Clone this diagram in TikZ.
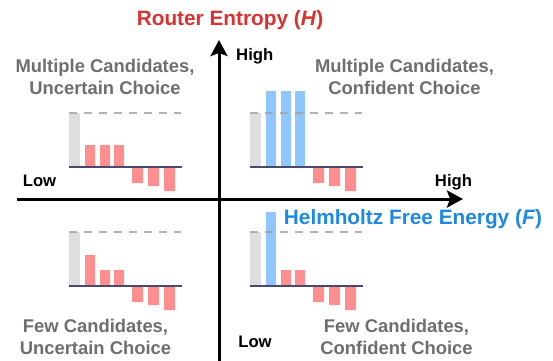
\documentclass[tikz,border=0pt]{standalone}
\usepackage{fontspec}
\setmainfont{Liberation Sans}
\usetikzlibrary{arrows.meta}
\definecolor{titlered}{RGB}{218,50,48}
\definecolor{titleblue}{RGB}{30,136,229}
\definecolor{quadgray}{RGB}{110,110,110}
\definecolor{bargray}{RGB}{222,222,222}
\definecolor{barred}{RGB}{255,143,143}
\definecolor{barblue}{RGB}{144,198,255}
\definecolor{zerocol}{RGB}{75,72,110}
\definecolor{dashcol}{RGB}{160,160,160}
\begin{document}
\begin{tikzpicture}[x=1pt, y=-1pt,
  every node/.style={inner sep=0pt, font=\bfseries},
  axis/.style={line width=3pt, -{Stealth[length=16pt,width=17pt,inset=3pt]}},
  quad/.style={align=center, text=quadgray, font=\bfseries\fontsize{18.4}{21.5}\selectfont},
  ticklab/.style={font=\bfseries\fontsize{16.7}{20}\selectfont},
  axtitle/.style={anchor=base, font=\bfseries\fontsize{20.8}{24}\selectfont},
  zeroline/.style={zerocol, line width=2.2pt},
  dashline/.style={dashcol, opacity=0.8, line width=2pt, dash pattern=on 8pt off 7pt}]
\useasboundingbox (0,0) rectangle (553,360);

% axes
\coordinate (xl) at (17,199);
\coordinate (xr) at (463,199);
\coordinate (yb) at (219,361);
\coordinate (yt) at (219,40);
\draw[axis] (xl) -- (xr);
\draw[axis] (yb) -- (yt);

\node[axtitle, text=titlered] (ytitle) at (230,25) {Router Entropy (\textit{H})};
\node[axtitle, text=titleblue] (xtitle) at (413,224) {Helmholtz Free Energy (\textit{F})};
\node[ticklab, anchor=base west] (yhigh) at (236,60) {High};
\node[ticklab, anchor=base] (ylow) at (255,347) {Low};
\node[ticklab, anchor=base] (xlow) at (39.5,186) {Low};
\node[ticklab, anchor=base] (xhigh) at (453.5,186) {High};

% quadrants
\node[quad] (qtl) at (105,77) {Multiple Candidates,\\Uncertain Choice};
\node[quad] (qtr) at (404.5,77) {Multiple Candidates,\\Confident Choice};
\node[quad] (qbl) at (95.5,337) {Few Candidates,\\Uncertain Choice};
\node[quad] (qbr) at (396.5,337) {Few Candidates,\\Confident Choice};

% top left
\begin{scope}[shift={(69,167)}]
\fill[bargray] (0,0) rectangle (11,-54);
\fill[barred] (16,0) rectangle (26,-22) (31,0) rectangle (41,-22) (45,0) rectangle (55,-22);
\fill[barred] (63,0) rectangle (74,16) (79,0) rectangle (90,19) (95,0) rectangle (106,24);
\draw[dashline] (0,-54.5) -- (112,-54.5);
\draw[zeroline] (0,0) -- (113,0);
\end{scope}

% top right
\begin{scope}[shift={(250,167)}]
\fill[bargray] (0,0) rectangle (11,-54);
\fill[barblue] (16,0) rectangle (26,-76) (31,0) rectangle (41,-76) (45,0) rectangle (55,-76);
\fill[barred] (63,0) rectangle (74,16) (79,0) rectangle (90,19) (95,0) rectangle (106,24);
\draw[dashline] (0,-54.5) -- (112,-54.5);
\draw[zeroline] (0,0) -- (113,0);
\end{scope}

% bottom left
\begin{scope}[shift={(69,286)}]
\fill[bargray] (0,0) rectangle (11,-54);
\fill[barred] (16,0) rectangle (26,-31) (31,0) rectangle (41,-16) (45,0) rectangle (55,-16);
\fill[barred] (63,0) rectangle (74,16) (79,0) rectangle (90,19) (95,0) rectangle (106,24);
\draw[dashline] (0,-54.5) -- (112,-54.5);
\draw[zeroline] (0,0) -- (113,0);
\end{scope}

% bottom right
\begin{scope}[shift={(250,286)}]
\fill[bargray] (0,0) rectangle (11,-54);
\fill[barblue] (16,0) rectangle (26,-74);
\fill[barred] (31,0) rectangle (41,-16) (45,0) rectangle (55,-16);
\fill[barred] (63,0) rectangle (74,16) (79,0) rectangle (90,19) (95,0) rectangle (106,24);
\draw[dashline] (0,-54.5) -- (112,-54.5);
\draw[zeroline] (0,0) -- (113,0);
\end{scope}
\end{tikzpicture}
\end{document}
